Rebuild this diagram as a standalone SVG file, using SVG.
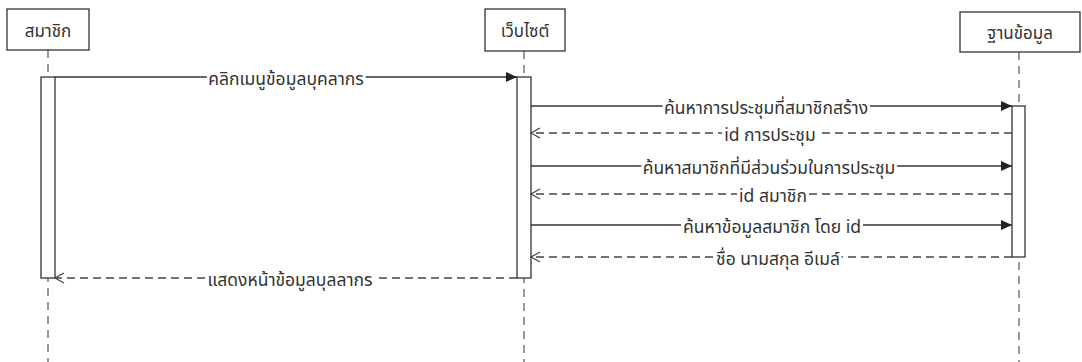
<svg xmlns="http://www.w3.org/2000/svg" width="1082" height="362" viewBox="0 0 1082 362">
<style>
  .box { fill: #ffffff; stroke: #333333; stroke-width: 1.3; }
  .life { stroke: #555555; stroke-width: 1.2; stroke-dasharray: 8 6; fill: none; }
  .act { fill: #ffffff; stroke: #333333; stroke-width: 1.3; }
  .msg { stroke: #333333; stroke-width: 1.3; fill: none; }
  .ret { stroke: #444444; stroke-width: 1.3; fill: none; stroke-dasharray: 8 5; }
  .bg { fill: #ffffff; }
  .t { font-family: "Noto Sans", "Noto Sans Thai", Tahoma, sans-serif; font-size: 17px; fill: #333333; text-anchor: middle; }
  .lbl { font-family: "Noto Sans", "Noto Sans Thai", Tahoma, sans-serif; font-size: 17.5px; fill: #333333; text-anchor: middle; stroke: #ffffff; stroke-width: 6; stroke-linejoin: round; paint-order: stroke fill; }
</style>
<defs>
  <marker id="fill" markerWidth="12" markerHeight="10" refX="11" refY="5" orient="auto" markerUnits="userSpaceOnUse">
    <path d="M0,0 L11,5 L0,10 Z" fill="#222222"/>
  </marker>
  <marker id="open" markerWidth="12" markerHeight="12" refX="10" refY="6" orient="auto" markerUnits="userSpaceOnUse">
    <path d="M1,1 L10,6 L1,11" fill="none" stroke="#444444" stroke-width="1.2"/>
  </marker>
</defs>
<rect width="1082" height="362" fill="#ffffff"/>

<g id="lifelines">
  <line class="life" x1="48" y1="50" x2="48" y2="362"/>
  <line class="life" x1="524" y1="51" x2="524" y2="362"/>
  <line class="life" x1="1019" y1="52" x2="1019" y2="362"/>
</g>

<g id="member">
  <rect class="box" x="7" y="9" width="82" height="41"/>
  <text class="t" x="48" y="37">สมาชิก</text>
  <rect class="act" x="41" y="77" width="14" height="201"/>
</g>

<g id="website">
  <rect class="box" x="485" y="9" width="80" height="42"/>
  <text class="t" x="525" y="37">เว็บไซต์</text>
  <rect class="act" x="517" y="77" width="14" height="201"/>
</g>

<g id="database">
  <rect class="box" x="960" y="12" width="120" height="40"/>
  <text class="t" x="1020" y="39">ฐานข้อมูล</text>
  <rect class="act" x="1012" y="106" width="13" height="151"/>
</g>

<g id="connectors">
  <line class="msg" x1="55" y1="77" x2="517" y2="77" marker-end="url(#fill)"/>
  <text class="lbl" x="286" y="85">คลิกเมนูข้อมูลบุคลากร</text>

  <line class="msg" x1="531" y1="106" x2="1012" y2="106" marker-end="url(#fill)"/>
  <text class="lbl" x="766" y="114">ค้นหาการประชุมที่สมาชิกสร้าง</text>

  <line class="ret" x1="1012" y1="133" x2="531" y2="133" marker-end="url(#open)"/>
  <rect class="bg" x="722" y="129" width="96" height="8"/>
  <text class="lbl" x="770" y="141">id การประชุม</text>

  <line class="msg" x1="531" y1="166" x2="1012" y2="166" marker-end="url(#fill)"/>
  <text class="lbl" x="769" y="174">ค้นหาสมาชิกที่มีส่วนร่วมในการประชุม</text>

  <line class="ret" x1="1012" y1="194" x2="531" y2="194" marker-end="url(#open)"/>
  <rect class="bg" x="737" y="190" width="72" height="8"/>
  <text class="lbl" x="773" y="202">id สมาชิก</text>

  <line class="msg" x1="531" y1="225" x2="1012" y2="225" marker-end="url(#fill)"/>
  <rect class="bg" x="681" y="221" width="182" height="8"/>
  <text class="lbl" x="772" y="233">ค้นหาข้อมูลสมาชิก โดย id</text>

  <line class="ret" x1="1012" y1="257" x2="531" y2="257" marker-end="url(#open)"/>
  <rect class="bg" x="715" y="253" width="126" height="8"/>
  <text class="lbl" x="778" y="265">ชื่อ นามสกุล อีเมล์</text>

  <line class="ret" x1="517" y1="278" x2="55" y2="278" marker-end="url(#open)"/>
  <text class="lbl" x="290" y="286">แสดงหน้าข้อมูลบุลลากร</text>
</g>
</svg>
